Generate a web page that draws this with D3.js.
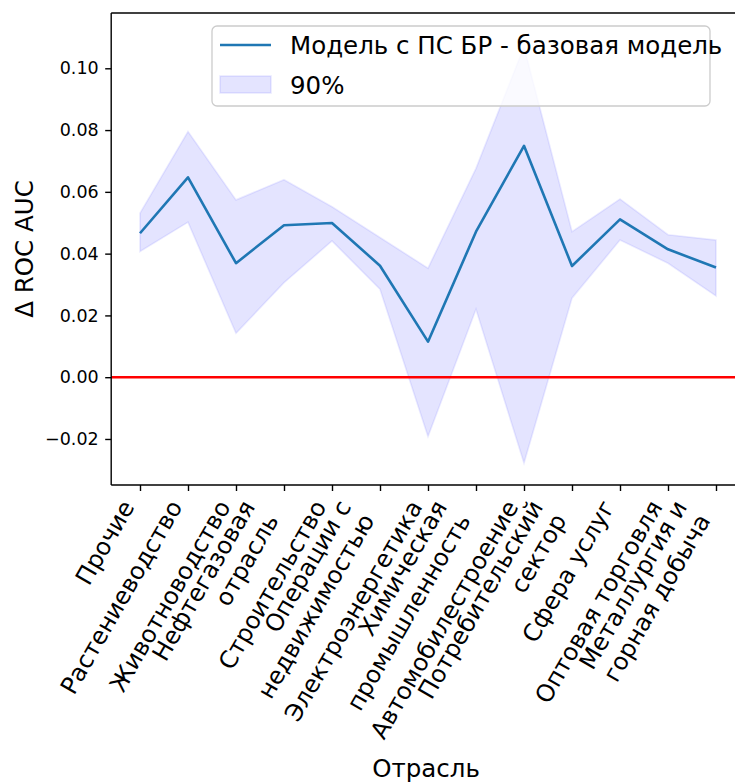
<!DOCTYPE html>
<html>
<head>
<meta charset="utf-8">
<script src="https://cdn.jsdelivr.net/npm/d3@7"></script>
<style>
  html, body { margin: 0; padding: 0; background: #ffffff; }
  svg { display: block; font-family: "DejaVu Sans", sans-serif; }
</style>
</head>
<body>
<svg id="chart" width="735" height="782"></svg>
<script>
// Industries (multi-line labels split by "\n")
const categories = [
  "Прочие",
  "Растениеводство",
  "Животноводство",
  "Нефтегазовая\nотрасль",
  "Строительство",
  "Операции с\nнедвижимостью",
  "Электроэнергетика",
  "Химическая\nпромышленность",
  "Автомобилестроение",
  "Потребительский\nсектор",
  "Сфера услуг",
  "Оптовая торговля",
  "Металлургия и\nгорная добыча"
];

// Δ ROC AUC: model with PS BR minus base model
const deltaValues = [0.0466, 0.0647, 0.0369, 0.0492, 0.0499, 0.0361, 0.0115, 0.0471, 0.0749, 0.0360, 0.0511, 0.0414, 0.0355];

// 90% interval bounds
const lowerValues = [0.0407, 0.0502, 0.0142, 0.0306, 0.0441, 0.0285, -0.0192, 0.0220, -0.0278, 0.0256, 0.0444, 0.0369, 0.0263];
const upperValues = [0.0531, 0.0795, 0.0574, 0.0639, 0.0552, 0.0452, 0.0353, 0.0676, 0.1070, 0.0471, 0.0577, 0.0461, 0.0444];

const yTicks = [-0.02, 0.00, 0.02, 0.04, 0.06, 0.08, 0.10];
const yDomain = [-0.0349, 0.1179];

const seriesLabel = "Модель с ПС БР - базовая модель";
const bandLabel = "90%";
const xTitle = "Отрасль";
const yTitle = "Δ ROC AUC";

// Layout
const plot = { left: 111.2, right: 744.8, top: 13, bottom: 485 };
const tickLen = 6, tickPad = 6.5;
const fsYTick = 17.5, fsXTick = 24, fsTitle = 24.5, fsLegend = 24.5;

const svg = d3.select("#chart");

const x = d3.scalePoint().domain(categories).range([plot.left, plot.right]).padding(0.6);
const y = d3.scaleLinear().domain(yDomain).range([plot.bottom, plot.top]);

const rows = categories.map((c, i) => ({ c, v: deltaValues[i], lo: lowerValues[i], hi: upperValues[i] }));

// 90% band
const band = d3.area().x(d => x(d.c)).y0(d => y(d.lo)).y1(d => y(d.hi));
svg.append("path")
  .datum(rows)
  .attr("d", band)
  .attr("fill", "rgba(0,0,255,0.105)")
  .attr("stroke", "rgba(0,0,255,0.08)")
  .attr("stroke-width", 1.7);

// Difference line
const line = d3.line().x(d => x(d.c)).y(d => y(d.v));
svg.append("path")
  .datum(rows)
  .attr("d", line)
  .attr("fill", "none")
  .attr("stroke", "#1f77b4")
  .attr("stroke-width", 2.6)
  .attr("stroke-linejoin", "round");

// Zero reference line
svg.append("line")
  .attr("x1", plot.left).attr("x2", plot.right)
  .attr("y1", y(0)).attr("y2", y(0))
  .attr("stroke", "#ff0000")
  .attr("stroke-width", 2.6);

// Y axis
const yAxis = d3.axisLeft(y)
  .tickValues(yTicks)
  .tickSize(tickLen)
  .tickPadding(tickPad)
  .tickFormat(d => d3.format(".2f")(d).replace("-", "\u2212"));
const gy = svg.append("g").attr("transform", `translate(${plot.left},0)`).call(yAxis);
gy.select(".domain").remove();
gy.selectAll(".tick line").attr("stroke", "#000").attr("stroke-width", 1.4);
gy.selectAll(".tick text").attr("font-size", fsYTick).attr("fill", "#000").attr("font-family", "DejaVu Sans");

// X axis ticks
const xAxis = d3.axisBottom(x).tickSize(tickLen).tickFormat("");
const gx = svg.append("g").attr("transform", `translate(0,${plot.bottom})`).call(xAxis);
gx.select(".domain").remove();
gx.selectAll(".tick line").attr("stroke", "#000").attr("stroke-width", 1.4);

// Rotated x tick labels, right-aligned, top-right corner of the block at the tick
const asc = 0.76 * fsXTick, desc = 0.23 * fsXTick, lh = 1.13 * fsXTick;
const c60 = Math.cos(Math.PI / 3), s60 = Math.sin(Math.PI / 3);
const labelTop = plot.bottom + tickLen + tickPad;
categories.forEach(c => {
  const lines = c.split("\n");
  const n = lines.length;
  const gxPos = x(c) - s60 * ((n - 1) * lh + desc);
  const gyPos = labelTop + c60 * asc;
  const t = svg.append("text")
    .attr("transform", `translate(${gxPos},${gyPos}) rotate(-60)`)
    .attr("font-size", fsXTick)
    .attr("text-anchor", "end")
    .attr("fill", "#000");
  lines.forEach((ln, i) => {
    t.append("tspan").attr("x", 0).attr("y", i * lh).text(ln);
  });
});

// Spines (the right one falls outside the canvas)
const spines = svg.append("g").attr("stroke", "#000").attr("stroke-width", 1.4).attr("fill", "none");
spines.append("line").attr("x1", plot.left).attr("x2", plot.left).attr("y1", plot.top).attr("y2", plot.bottom);
spines.append("line").attr("x1", plot.left).attr("x2", plot.right).attr("y1", plot.bottom).attr("y2", plot.bottom);
spines.append("line").attr("x1", plot.left).attr("x2", plot.right).attr("y1", plot.top).attr("y2", plot.top);
spines.append("line").attr("x1", plot.right).attr("x2", plot.right).attr("y1", plot.top).attr("y2", plot.bottom);

// Axis titles
svg.append("text")
  .attr("transform", `translate(33,${(plot.top + plot.bottom) / 2}) rotate(-90)`)
  .attr("text-anchor", "middle")
  .attr("font-size", fsTitle)
  .attr("fill", "#000")
  .text(yTitle);

svg.append("text")
  .attr("x", 426)
  .attr("y", 777)
  .attr("text-anchor", "middle")
  .attr("font-size", fsTitle)
  .attr("fill", "#000")
  .text(xTitle);

// Legend
const lg = svg.append("g");
lg.append("rect")
  .attr("x", 212).attr("y", 26).attr("width", 498).attr("height", 80)
  .attr("rx", 5).attr("ry", 5)
  .attr("fill", "rgba(255,255,255,0.8)")
  .attr("stroke", "#cccccc").attr("stroke-width", 1.3);
lg.append("line")
  .attr("x1", 220).attr("x2", 271).attr("y1", 45).attr("y2", 45)
  .attr("stroke", "#1f77b4").attr("stroke-width", 2.6);
lg.append("rect")
  .attr("x", 220).attr("y", 76).attr("width", 51).attr("height", 17)
  .attr("fill", "rgba(0,0,255,0.105)")
  .attr("stroke", "rgba(0,0,255,0.08)").attr("stroke-width", 1.7);
lg.append("text")
  .attr("x", 290).attr("y", 54)
  .attr("font-size", fsLegend).attr("fill", "#000")
  .text(seriesLabel);
lg.append("text")
  .attr("x", 290).attr("y", 94)
  .attr("font-size", fsLegend).attr("fill", "#000")
  .text(bandLabel);
</script>
</body>
</html>
